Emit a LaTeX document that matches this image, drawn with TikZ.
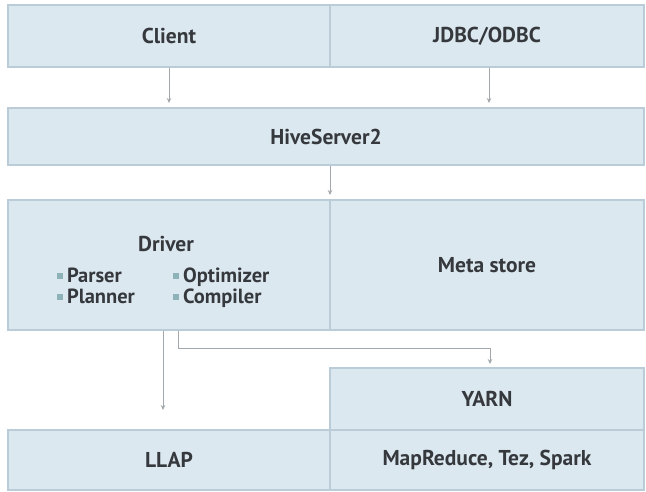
\documentclass[tikz,border=0pt]{standalone}
\usepackage{fontspec}
\setmainfont{PT Sans}
\usetikzlibrary{arrows.meta}
\definecolor{boxfill}{HTML}{DCE8EF}
\definecolor{boxline}{HTML}{B9CCD8}
\definecolor{txt}{HTML}{35393D}
\definecolor{wire}{HTML}{A3A8AC}
\definecolor{bullet}{HTML}{8DB3B8}
\tikzset{
  box/.style={draw=boxline, line width=1.2pt, fill=boxfill, text=txt,
    font=\fontsize{21.5}{24}\selectfont\bfseries, inner sep=0pt},
  item/.style={text=txt, font=\fontsize{20.5}{23}\selectfont\bfseries, anchor=base west, inner sep=0pt},
  conn/.style={draw=wire, line width=1pt, -{Stealth[length=5pt,width=4.5pt]}},
}
\newcommand{\bsq}{\textcolor{bullet}{\rule[0.15em]{0.28em}{0.28em}}\hspace{0.2em}}
\begin{document}
\begin{tikzpicture}[x=1pt,y=-1pt]
\useasboundingbox[fill=white] (0,0) rectangle (646,492);
% top row
\node[box, minimum width=322, minimum height=62] (client) at (169,36) {Client};
\node[box, minimum width=314, minimum height=62] (jdbc) at (487,36) {JDBC/ODBC};
% server row
\node[box, minimum width=636, minimum height=57] (hs2) at (326,136.5) {HiveServer2};
% driver / metastore row
\node[box, minimum width=322, minimum height=130] (driver) at (169,265) {};
\node[box, minimum width=314, minimum height=130] (meta) at (487,265) {Meta store};
\node[text=txt, font=\fontsize{21.5}{24}\selectfont\bfseries, inner sep=0pt] (drvtitle) at (166,244) {Driver};
\node[item] (parser) at (57,282) {\bsq Parser};
\node[item] (optim) at (173,282) {\bsq Optimizer};
\node[item] (planner) at (57,303) {\bsq Planner};
\node[item] (compiler) at (173,303) {\bsq Compiler};
% execution rows
\node[box, minimum width=314, minimum height=62] (yarn) at (487,399) {YARN};
\node[box, minimum width=322, minimum height=60] (llap) at (169,460) {LLAP};
\node[box, minimum width=314, minimum height=60] (mr) at (487,460) {MapReduce, Tez, Spark};
% connectors
\draw[conn] (client.south -| 169,0) -- (169,103);
\draw[conn] (jdbc.south -| 489,0) -- (489,103);
\draw[conn] (hs2.south -| 330,0) -- (330,195);
\draw[conn] (driver.south -| 163,0) -- (163,410);
\coordinate (bend1) at (178,348);
\coordinate (bend2) at (490,348);
\draw[conn] (driver.south -| bend1) -- (bend1) -- (bend2) -- (490,364);
\end{tikzpicture}
\end{document}
